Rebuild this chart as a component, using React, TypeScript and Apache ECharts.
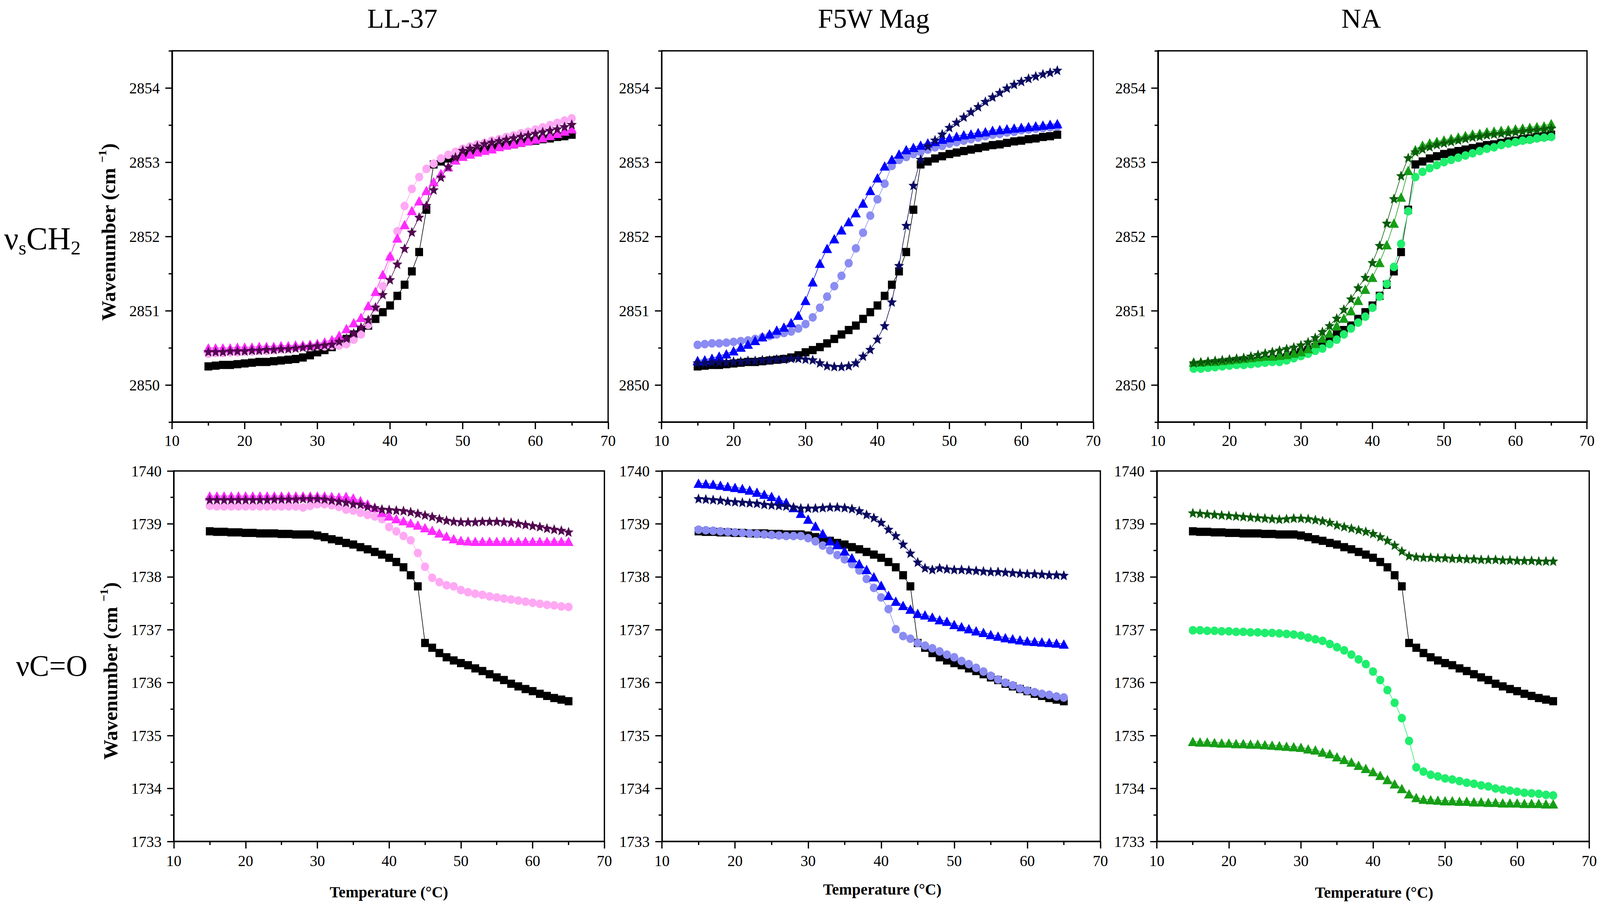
import { useEffect, useRef } from 'react';
import * as echarts from 'echarts';

// temperature steps (°C)
const temperatures = [
  15, 16, 17, 18, 19, 20, 21, 22, 23, 24, 25, 26, 27, 28, 29, 30, 31, 32, 33, 34,
  35, 36, 37, 38, 39, 40, 41, 42, 43, 44, 45, 46, 47, 48, 49, 50, 51, 52, 53, 54,
  55, 56, 57, 58, 59, 60, 61, 62, 63, 64, 65,
];

// ---- νsCH2 (top row) ----
const controlCH2 = [
  2850.25, 2850.26, 2850.27, 2850.27, 2850.28, 2850.29, 2850.30, 2850.31, 2850.31, 2850.32,
  2850.33, 2850.34, 2850.35, 2850.37, 2850.40, 2850.44, 2850.47, 2850.51, 2850.56, 2850.62,
  2850.68, 2850.74, 2850.80, 2850.89, 2850.98, 2851.07, 2851.20, 2851.35, 2851.53, 2851.79,
  2852.36, 2852.97, 2853.01, 2853.05, 2853.08, 2853.11, 2853.13, 2853.15, 2853.17, 2853.19,
  2853.21, 2853.23, 2853.24, 2853.26, 2853.28, 2853.29, 2853.31, 2853.32, 2853.34, 2853.35, 2853.37,
];
const ll37CH2Circle = [
  2850.42, 2850.43, 2850.43, 2850.44, 2850.44, 2850.45, 2850.45, 2850.46, 2850.46, 2850.47,
  2850.48, 2850.49, 2850.50, 2850.51, 2850.51, 2850.52, 2850.52, 2850.53, 2850.53, 2850.55,
  2850.61, 2850.68, 2850.81, 2851.04, 2851.33, 2851.71, 2852.07, 2852.41, 2852.64, 2852.80,
  2852.91, 2852.98, 2853.05, 2853.10, 2853.14, 2853.18, 2853.21, 2853.24, 2853.26, 2853.29,
  2853.31, 2853.34, 2853.36, 2853.39, 2853.41, 2853.44, 2853.47, 2853.50, 2853.53, 2853.56, 2853.59,
];
const ll37CH2Triangle = [
  2850.50, 2850.50, 2850.50, 2850.50, 2850.51, 2850.51, 2850.51, 2850.52, 2850.52, 2850.52,
  2850.53, 2850.53, 2850.54, 2850.54, 2850.55, 2850.56, 2850.58, 2850.61, 2850.67, 2850.76,
  2850.84, 2850.91, 2851.07, 2851.26, 2851.49, 2851.74, 2851.98, 2852.16, 2852.35, 2852.48,
  2852.62, 2852.74, 2852.85, 2852.94, 2853.03, 2853.08, 2853.11, 2853.14, 2853.16, 2853.18,
  2853.21, 2853.23, 2853.25, 2853.27, 2853.29, 2853.31, 2853.33, 2853.36, 2853.39, 2853.42, 2853.45,
];
const ll37CH2Star = [
  2850.45, 2850.45, 2850.45, 2850.46, 2850.46, 2850.46, 2850.47, 2850.47, 2850.48, 2850.48,
  2850.49, 2850.49, 2850.50, 2850.51, 2850.52, 2850.53, 2850.54, 2850.55, 2850.59, 2850.63,
  2850.70, 2850.78, 2850.88, 2851.05, 2851.22, 2851.42, 2851.63, 2851.84, 2852.06, 2852.26,
  2852.42, 2852.63, 2852.80, 2852.94, 2853.07, 2853.16, 2853.19, 2853.22, 2853.25, 2853.27,
  2853.29, 2853.31, 2853.33, 2853.35, 2853.37, 2853.39, 2853.41, 2853.43, 2853.45, 2853.48, 2853.51,
];
const f5wCH2Circle = [
  2850.54, 2850.55, 2850.56, 2850.56, 2850.57, 2850.58, 2850.59, 2850.60, 2850.62, 2850.64,
  2850.66, 2850.68, 2850.70, 2850.72, 2850.76, 2850.82, 2850.91, 2851.04, 2851.19, 2851.33,
  2851.47, 2851.64, 2851.84, 2852.05, 2852.28, 2852.50, 2852.71, 2852.95, 2853.03, 2853.07,
  2853.11, 2853.14, 2853.17, 2853.20, 2853.22, 2853.25, 2853.27, 2853.29, 2853.31, 2853.33,
  2853.35, 2853.37, 2853.38, 2853.40, 2853.41, 2853.43, 2853.44, 2853.45, 2853.46, 2853.47, 2853.48,
];
const f5wCH2Triangle = [
  2850.33, 2850.34, 2850.36, 2850.39, 2850.42, 2850.46, 2850.51, 2850.55, 2850.60, 2850.65,
  2850.69, 2850.74, 2850.78, 2850.84, 2850.94, 2851.14, 2851.39, 2851.64, 2851.84, 2851.97,
  2852.09, 2852.20, 2852.32, 2852.45, 2852.62, 2852.79, 2852.95, 2853.04, 2853.11, 2853.17,
  2853.20, 2853.23, 2853.26, 2853.28, 2853.31, 2853.33, 2853.35, 2853.37, 2853.38, 2853.40,
  2853.41, 2853.43, 2853.44, 2853.45, 2853.46, 2853.47, 2853.48, 2853.49, 2853.50, 2853.51, 2853.52,
];
const f5wCH2Star = [
  2850.30, 2850.30, 2850.31, 2850.31, 2850.31, 2850.32, 2850.32, 2850.33, 2850.33, 2850.34,
  2850.34, 2850.35, 2850.35, 2850.36, 2850.36, 2850.35, 2850.34, 2850.30, 2850.26, 2850.25,
  2850.25, 2850.26, 2850.30, 2850.39, 2850.48, 2850.62, 2850.80, 2851.12, 2851.61, 2852.15,
  2852.69, 2853.04, 2853.22, 2853.30, 2853.38, 2853.47, 2853.54, 2853.61, 2853.68, 2853.75,
  2853.82, 2853.88, 2853.94, 2854.00, 2854.05, 2854.09, 2854.13, 2854.16, 2854.19, 2854.21, 2854.24,
];
const naCH2Circle = [
  2850.22, 2850.22, 2850.23, 2850.24, 2850.25, 2850.26, 2850.27, 2850.27, 2850.28, 2850.29,
  2850.30, 2850.31, 2850.31, 2850.33, 2850.36, 2850.39, 2850.42, 2850.46, 2850.49, 2850.55,
  2850.61, 2850.68, 2850.76, 2850.84, 2850.92, 2851.04, 2851.19, 2851.36, 2851.59, 2851.90,
  2852.34, 2852.80, 2852.87, 2852.92, 2852.96, 2853.00, 2853.03, 2853.06, 2853.09, 2853.12,
  2853.15, 2853.18, 2853.20, 2853.23, 2853.25, 2853.27, 2853.29, 2853.30, 2853.32, 2853.33, 2853.34,
];
const naCH2Triangle = [
  2850.31, 2850.31, 2850.32, 2850.32, 2850.33, 2850.34, 2850.35, 2850.36, 2850.37, 2850.38,
  2850.39, 2850.39, 2850.40, 2850.41, 2850.43, 2850.45, 2850.49, 2850.56, 2850.63, 2850.70,
  2850.80, 2850.90, 2851.00, 2851.14, 2851.29, 2851.45, 2851.65, 2851.89, 2852.18, 2852.53,
  2852.89, 2853.17, 2853.23, 2853.26, 2853.28, 2853.30, 2853.32, 2853.34, 2853.36, 2853.38,
  2853.39, 2853.41, 2853.42, 2853.43, 2853.44, 2853.45, 2853.46, 2853.47, 2853.48, 2853.49, 2853.52,
];
const naCH2Star = [
  2850.30, 2850.31, 2850.32, 2850.33, 2850.34, 2850.35, 2850.36, 2850.37, 2850.39, 2850.41,
  2850.43, 2850.45, 2850.47, 2850.49, 2850.51, 2850.54, 2850.58, 2850.64, 2850.72, 2850.80,
  2850.90, 2851.02, 2851.16, 2851.31, 2851.45, 2851.65, 2851.88, 2852.18, 2852.51, 2852.82,
  2853.06, 2853.14, 2853.18, 2853.21, 2853.24, 2853.26, 2853.28, 2853.30, 2853.32, 2853.34,
  2853.35, 2853.37, 2853.38, 2853.39, 2853.40, 2853.41, 2853.42, 2853.43, 2853.44, 2853.45, 2853.46,
];

// ---- νC=O (bottom row) ----
const controlCO = [
  1738.86, 1738.85, 1738.85, 1738.84, 1738.84, 1738.83, 1738.83, 1738.82, 1738.82, 1738.82,
  1738.81, 1738.81, 1738.80, 1738.80, 1738.80, 1738.78, 1738.75, 1738.71, 1738.68, 1738.64,
  1738.61, 1738.56, 1738.52, 1738.47, 1738.42, 1738.36, 1738.28, 1738.18, 1738.03, 1737.82,
  1736.75, 1736.66, 1736.56, 1736.48, 1736.42, 1736.37, 1736.33, 1736.27, 1736.22, 1736.16,
  1736.10, 1736.05, 1735.98, 1735.93, 1735.88, 1735.84, 1735.79, 1735.75, 1735.71, 1735.68, 1735.65,
];
const ll37COCircle = [
  1739.34, 1739.33, 1739.33, 1739.33, 1739.33, 1739.33, 1739.33, 1739.33, 1739.33, 1739.33,
  1739.33, 1739.33, 1739.33, 1739.31, 1739.34, 1739.37, 1739.37, 1739.35, 1739.32, 1739.27,
  1739.25, 1739.21, 1739.17, 1739.14, 1739.09, 1738.94, 1738.86, 1738.77, 1738.69, 1738.45,
  1738.19, 1737.98, 1737.90, 1737.84, 1737.82, 1737.75, 1737.71, 1737.68, 1737.66, 1737.63,
  1737.61, 1737.59, 1737.57, 1737.55, 1737.53, 1737.51, 1737.49, 1737.47, 1737.46, 1737.44, 1737.43,
];
const ll37COTriangle = [
  1739.53, 1739.53, 1739.53, 1739.53, 1739.53, 1739.53, 1739.53, 1739.53, 1739.53, 1739.53,
  1739.53, 1739.53, 1739.53, 1739.53, 1739.53, 1739.53, 1739.53, 1739.52, 1739.51, 1739.52,
  1739.49, 1739.44, 1739.38, 1739.31, 1739.22, 1739.15, 1739.10, 1739.06, 1739.02, 1738.98,
  1738.93, 1738.88, 1738.83, 1738.77, 1738.72, 1738.69, 1738.68, 1738.67, 1738.67, 1738.67,
  1738.67, 1738.67, 1738.67, 1738.67, 1738.67, 1738.67, 1738.67, 1738.67, 1738.67, 1738.67, 1738.67,
];
const ll37COStar = [
  1739.46, 1739.46, 1739.46, 1739.46, 1739.46, 1739.46, 1739.46, 1739.46, 1739.46, 1739.47,
  1739.47, 1739.47, 1739.47, 1739.48, 1739.48, 1739.48, 1739.47, 1739.45, 1739.43, 1739.41,
  1739.38, 1739.37, 1739.33, 1739.31, 1739.28, 1739.27, 1739.26, 1739.25, 1739.23, 1739.20,
  1739.17, 1739.14, 1739.10, 1739.07, 1739.05, 1739.04, 1739.04, 1739.04, 1739.05, 1739.05,
  1739.05, 1739.04, 1739.03, 1739.01, 1738.99, 1738.97, 1738.95, 1738.92, 1738.90, 1738.88, 1738.85,
];
const f5wCOCircle = [
  1738.89, 1738.88, 1738.87, 1738.86, 1738.85, 1738.84, 1738.83, 1738.82, 1738.81, 1738.80,
  1738.79, 1738.78, 1738.77, 1738.77, 1738.77, 1738.73, 1738.67, 1738.59, 1738.50, 1738.41,
  1738.33, 1738.24, 1738.12, 1737.96, 1737.79, 1737.61, 1737.39, 1737.01, 1736.88, 1736.83,
  1736.75, 1736.70, 1736.65, 1736.59, 1736.53, 1736.48, 1736.41, 1736.35, 1736.28, 1736.21,
  1736.13, 1736.06, 1736.00, 1735.95, 1735.89, 1735.85, 1735.82, 1735.79, 1735.77, 1735.74, 1735.72,
];
const f5wCOTriangle = [
  1739.77, 1739.76, 1739.75, 1739.73, 1739.71, 1739.69, 1739.67, 1739.64, 1739.60, 1739.56,
  1739.52, 1739.46, 1739.41, 1739.31, 1739.20, 1739.09, 1738.96, 1738.82, 1738.68, 1738.61,
  1738.49, 1738.36, 1738.25, 1738.14, 1738.00, 1737.84, 1737.65, 1737.54, 1737.46, 1737.39,
  1737.31, 1737.28, 1737.24, 1737.19, 1737.16, 1737.10, 1737.06, 1737.02, 1736.98, 1736.95,
  1736.91, 1736.88, 1736.85, 1736.83, 1736.81, 1736.79, 1736.78, 1736.77, 1736.76, 1736.75, 1736.73,
];
const f5wCOStar = [
  1739.48, 1739.47, 1739.46, 1739.45, 1739.43, 1739.42, 1739.41, 1739.40, 1739.39, 1739.37,
  1739.36, 1739.35, 1739.34, 1739.32, 1739.30, 1739.30, 1739.30, 1739.31, 1739.32, 1739.32,
  1739.31, 1739.29, 1739.25, 1739.18, 1739.12, 1739.03, 1738.90, 1738.78, 1738.62, 1738.45,
  1738.28, 1738.17, 1738.14, 1738.17, 1738.15, 1738.14, 1738.14, 1738.13, 1738.12, 1738.11,
  1738.10, 1738.10, 1738.09, 1738.08, 1738.07, 1738.06, 1738.06, 1738.05, 1738.04, 1738.04, 1738.03,
];
const naCOCircle = [
  1736.99, 1736.99, 1736.98, 1736.98, 1736.97, 1736.97, 1736.96, 1736.96, 1736.95, 1736.95,
  1736.94, 1736.94, 1736.93, 1736.92, 1736.91, 1736.89, 1736.85, 1736.82, 1736.79, 1736.73,
  1736.67, 1736.61, 1736.53, 1736.44, 1736.35, 1736.21, 1736.05, 1735.86, 1735.62, 1735.33,
  1734.90, 1734.40, 1734.32, 1734.26, 1734.23, 1734.19, 1734.17, 1734.14, 1734.11, 1734.09,
  1734.06, 1734.04, 1734.00, 1733.98, 1733.96, 1733.94, 1733.92, 1733.91, 1733.90, 1733.88, 1733.87,
];
const naCOTriangle = [
  1734.89, 1734.88, 1734.88, 1734.87, 1734.86, 1734.86, 1734.85, 1734.85, 1734.84, 1734.84,
  1734.83, 1734.82, 1734.81, 1734.80, 1734.79, 1734.78, 1734.75, 1734.73, 1734.69, 1734.66,
  1734.60, 1734.55, 1734.50, 1734.44, 1734.38, 1734.32, 1734.25, 1734.17, 1734.09, 1734.00,
  1733.90, 1733.83, 1733.80, 1733.79, 1733.78, 1733.77, 1733.77, 1733.76, 1733.76, 1733.75,
  1733.75, 1733.74, 1733.74, 1733.73, 1733.73, 1733.73, 1733.72, 1733.72, 1733.72, 1733.71, 1733.71,
];
const naCOStar = [
  1739.21, 1739.20, 1739.19, 1739.18, 1739.17, 1739.16, 1739.15, 1739.14, 1739.13, 1739.12,
  1739.11, 1739.10, 1739.09, 1739.10, 1739.11, 1739.11, 1739.10, 1739.08, 1739.06, 1739.03,
  1738.98, 1738.95, 1738.92, 1738.89, 1738.86, 1738.82, 1738.76, 1738.69, 1738.60, 1738.49,
  1738.40, 1738.38, 1738.37, 1738.37, 1738.36, 1738.36, 1738.35, 1738.35, 1738.34, 1738.34,
  1738.33, 1738.33, 1738.33, 1738.32, 1738.32, 1738.31, 1738.31, 1738.31, 1738.30, 1738.30, 1738.30,
];

const panelTitles = ['LL-37', 'F5W Mag', 'NA'];
const ch2Labels = [2850, 2851, 2852, 2853, 2854];
const ch2Minor = [2849.5, 2850.5, 2851.5, 2852.5, 2853.5, 2854.5];
const coLabels = [1733, 1734, 1735, 1736, 1737, 1738, 1739, 1740];
const coMinor = [1733.5, 1734.5, 1735.5, 1736.5, 1737.5, 1738.5, 1739.5];

const FONT = "'Liberation Serif', 'DejaVu Serif', serif";
// layout below is drawn on a 4307 x 2313 design and scaled to the real container
const DESIGN_W = 4307;
const DESIGN_H = 2313;

// five-pointed star marker
function starSymbol() {
  const pts: string[] = [];
  for (let i = 0; i < 10; i++) {
    const r = i % 2 === 0 ? 50 : 22;
    const a = -Math.PI / 2 + (i * Math.PI) / 5;
    pts.push(`${(50 + r * Math.cos(a)).toFixed(2)} ${(50 + r * Math.sin(a)).toFixed(2)}`);
  }
  return 'path://M' + pts.join(' L') + ' Z';
}
const STAR = starSymbol();

type Mark = { values: number[]; symbol: string; size: number[]; color: string };

const sq = (values: number[]): Mark => ({ values, symbol: 'rect', size: [21, 21], color: '#000000' });
const ci = (values: number[], color: string): Mark => ({ values, symbol: 'circle', size: [22, 22], color });
const tr = (values: number[], color: string): Mark => ({ values, symbol: 'triangle', size: [27, 24], color });
const st = (values: number[], color: string): Mark => ({ values, symbol: STAR, size: [27, 26], color });

const PINK = '#FFA8F4';
const MAGENTA = '#FF2BFF';
const PURPLE = '#520850';
const LAVENDER = '#8A8CF2';
const BLUE = '#0000FF';
const NAVY = '#0A0A62';
const SPRING = '#1FEE6C';
const GREEN = '#169E16';
const DKGREEN = '#0A5C0A';

const panels: Mark[][] = [
  [sq(controlCH2), ci(ll37CH2Circle, PINK), tr(ll37CH2Triangle, MAGENTA), st(ll37CH2Star, PURPLE)],
  [sq(controlCH2), ci(f5wCH2Circle, LAVENDER), tr(f5wCH2Triangle, BLUE), st(f5wCH2Star, NAVY)],
  [sq(controlCH2), ci(naCH2Circle, SPRING), tr(naCH2Triangle, GREEN), st(naCH2Star, DKGREEN)],
  [sq(controlCO), ci(ll37COCircle, PINK), tr(ll37COTriangle, MAGENTA), st(ll37COStar, PURPLE)],
  [sq(controlCO), ci(f5wCOCircle, LAVENDER), tr(f5wCOTriangle, BLUE), st(f5wCOStar, NAVY)],
  [sq(controlCO), ci(naCOCircle, SPRING), tr(naCOTriangle, GREEN), st(naCOStar, DKGREEN)],
];

// plot boxes on the design canvas
const boxes = [
  { left: 463, top: 130, width: 1174, height: 950 },
  { left: 1781, top: 130, width: 1162, height: 950 },
  { left: 3117, top: 130, width: 1155, height: 950 },
  { left: 468, top: 1205, width: 1159, height: 948 },
  { left: 1782, top: 1205, width: 1180, height: 948 },
  { left: 3114, top: 1205, width: 1164, height: 948 },
];

function buildOption(sx: number, sy: number): echarts.EChartsOption {
  const X = (v: number) => v * sx;
  const Y = (v: number) => v * sy;
  const f = Math.min(sx, sy);
  const k = (v: number) => v * f;
  const tickStyle = { color: '#000', width: k(3.5) };

  const xAxis = boxes.map((_, i) => ({
    type: 'value' as const,
    gridIndex: i,
    min: 10,
    max: 70,
    interval: 10,
    axisLine: { show: true, onZero: false, lineStyle: { color: '#000', width: k(4) } },
    axisTick: { show: true, length: Y(18), lineStyle: tickStyle },
    minorTick: { show: true, splitNumber: 2, length: Y(9), lineStyle: tickStyle },
    axisLabel: { fontFamily: FONT, fontSize: k(41), color: '#000', margin: Y(i < 3 ? 28 : 30) },
    splitLine: { show: false },
  }));

  const yAxis: any[] = [];
  boxes.forEach((_, i) => {
    const top = i < 3;
    const min = top ? 2849.5 : 1733;
    const max = top ? 2854.5 : 1740;
    const labels = top ? ch2Labels : coLabels;
    const minor = top ? ch2Minor : coMinor;
    yAxis.push({
      type: 'value',
      gridIndex: i,
      position: 'left',
      min,
      max,
      interval: 0.5,
      axisLine: { show: true, onZero: false, lineStyle: { color: '#000', width: k(4) } },
      axisTick: { show: true, length: X(9), customValues: minor, lineStyle: tickStyle },
      axisLabel: {
        customValues: labels,
        fontFamily: FONT,
        fontSize: k(41),
        color: '#000',
        margin: X(33),
        formatter: (v: number) => String(v),
      },
      splitLine: { show: false },
    });
    // long ticks at whole wavenumbers
    yAxis.push({
      type: 'value',
      gridIndex: i,
      position: 'left',
      min,
      max,
      interval: 0.5,
      axisLine: { show: false },
      axisTick: { show: true, length: X(18), customValues: labels, lineStyle: tickStyle },
      axisLabel: { show: false },
      splitLine: { show: false },
    });
  });

  const series: any[] = [];
  panels.forEach((marks, g) => {
    marks.forEach((m) => {
      series.push({
        type: 'line',
        xAxisIndex: g,
        yAxisIndex: 2 * g,
        data: temperatures.map((t, idx) => [t, m.values[idx]]),
        symbol: m.symbol,
        symbolSize: [X(m.size[0]), Y(m.size[1])],
        showSymbol: true,
        itemStyle: { color: m.color, borderWidth: 0 },
        lineStyle: { color: m.color, width: k(1.6) },
        silent: true,
      });
    });
  });

  const titleX = [1083, 2352, 3664];
  const tempX = [1047, 2375, 3699];
  const tempY = [2282, 2275, 2283];
  const bold = { fontFamily: FONT, fontWeight: 'bold' as const, fill: '#000' };

  const graphic: any[] = [
    ...panelTitles.map((t, i) => ({
      type: 'text',
      x: X(titleX[i]),
      y: Y(47),
      style: { text: t, fontFamily: FONT, fontSize: k(74), fill: '#000', align: 'center', verticalAlign: 'middle' },
    })),
    {
      type: 'text',
      x: X(11),
      y: Y(610),
      style: {
        text: '{a|ν}{s|s}{a|CH}{s|2}',
        align: 'left',
        verticalAlign: 'middle',
        rich: {
          a: { fontFamily: FONT, fontSize: k(86), fill: '#000' },
          s: { fontFamily: FONT, fontSize: k(54), fill: '#000', padding: [k(50), 0, 0, 0] },
        },
      },
    },
    {
      type: 'text',
      x: X(43),
      y: Y(1703),
      style: { text: 'νC=O', fontFamily: FONT, fontSize: k(80), fill: '#000', align: 'left', verticalAlign: 'middle' },
    },
    ...[
      [292, 594],
      [297, 1717],
    ].map(([x, y]) => ({
      type: 'text',
      x: X(x),
      y: Y(y),
      rotation: Math.PI / 2,
      style: {
        text: '{b|Wavenumber (cm }{p|−1}{b|)}',
        align: 'center',
        verticalAlign: 'middle',
        rich: {
          b: { ...bold, fontSize: k(54) },
          p: { ...bold, fontSize: k(32), padding: [0, 0, k(34), 0] },
        },
      },
    })),
    ...tempX.map((x, i) => ({
      type: 'text',
      x: X(x),
      y: Y(tempY[i]),
      style: { ...bold, text: 'Temperature (°C)', fontSize: k(42), align: 'center', verticalAlign: 'middle' },
    })),
  ];

  return {
    animation: false,
    backgroundColor: '#ffffff',
    grid: boxes.map((b) => ({
      left: X(b.left),
      top: Y(b.top),
      width: X(b.width),
      height: Y(b.height),
      show: true,
      borderColor: '#000',
      borderWidth: k(3.5),
      backgroundColor: 'transparent',
      containLabel: false,
      outerBoundsMode: 'none',
    })) as any,
    xAxis,
    yAxis,
    series,
    graphic,
  };
}

export default function App() {
  const chartRef = useRef<HTMLDivElement>(null);

  useEffect(() => {
    const el = chartRef.current;
    if (!el) return;
    const chart = echarts.init(el, undefined, { renderer: 'svg' });
    const draw = () => {
      chart.resize();
      chart.setOption(buildOption(el.clientWidth / DESIGN_W, el.clientHeight / DESIGN_H), true);
    };
    draw();

    window.addEventListener('resize', draw);
    return () => {
      window.removeEventListener('resize', draw);
      chart.dispose();
    };
  }, []);

  return (
    <div
      ref={chartRef}
      style={{ position: 'fixed', left: 0, top: 0, width: '100vw', height: '100vh', background: '#fff' }}
    />
  );
}
